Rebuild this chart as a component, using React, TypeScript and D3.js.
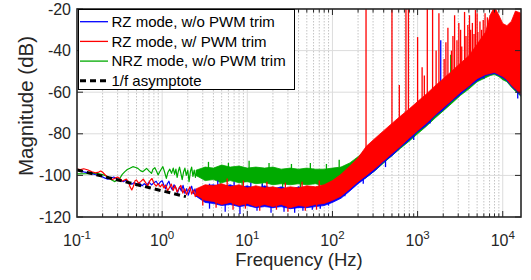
import { useEffect, useRef } from 'react';
import * as d3 from 'd3';

// axis ticks
const yTicks = [-120, -100, -80, -60, -40, -20];
const xDecades = [0.1, 1, 10, 100, 1000, 10000];
const xTickExp = ['-1', '0', '1', '2', '3', '4'];

const legendLabels = ['RZ mode, w/o PWM trim', 'RZ mode, w/ PWM trim', 'NRZ mode, w/o PWM trim', '1/f asymptote'];

// low-frequency traces [Hz, dB]
const blueTrace: [number, number][] = [
  [0.1, -97.3], [0.11, -97.8], [0.12, -98.3], [0.135, -98.8], [0.15, -99.2], [0.17, -99.8], [0.19, -100.3],
  [0.21, -101.2], [0.23, -101.8], [0.25, -101.4], [0.27, -100.8], [0.29, -101.5], [0.32, -102.4], [0.35, -103],
  [0.38, -102.2], [0.41, -103.5], [0.44, -104.2], [0.47, -103.4], [0.5, -104.5], [0.54, -103.6], [0.58, -105],
  [0.62, -104], [0.66, -104.8], [0.7, -103.2], [0.75, -104.6], [0.8, -103.5], [0.85, -102.8], [0.9, -104.5],
  [0.95, -103.2], [1.0, -102.6], [1.05, -104.8], [1.1, -106.5], [1.15, -104], [1.2, -102.8], [1.26, -105.5],
  [1.32, -107], [1.38, -104.5], [1.45, -106], [1.52, -108.2], [1.6, -105.5], [1.68, -107.5], [1.76, -104.8],
  [1.85, -108.6], [1.94, -106.4], [2.03, -109.5], [2.12, -107], [2.22, -105.2], [2.32, -108.8], [2.43, -106.5],
  [2.55, -110], [2.65, -107]
];
const redTrace: [number, number][] = [
  [0.1, -97], [0.11, -97.2], [0.12, -96.8], [0.135, -97.4], [0.15, -98.3], [0.165, -98.8], [0.18, -98.4],
  [0.19, -97.9], [0.2, -98.5], [0.22, -100.2], [0.24, -101.5], [0.26, -102], [0.28, -101.3], [0.3, -100.8],
  [0.32, -101.6], [0.34, -102.8], [0.36, -102.2], [0.38, -101.8], [0.4, -103], [0.42, -105.5], [0.44, -107],
  [0.46, -105.2], [0.48, -102.6], [0.5, -102.2], [0.53, -103.8], [0.56, -103], [0.6, -101.8], [0.64, -103.5],
  [0.68, -105], [0.72, -102.5], [0.76, -101.5], [0.8, -103.8], [0.85, -105.2], [0.9, -104], [0.95, -105.5],
  [1.0, -104.3], [1.05, -106], [1.1, -104.6], [1.16, -107.4], [1.22, -105.8], [1.28, -104.2], [1.35, -107.2],
  [1.42, -105], [1.5, -108], [1.58, -106.2], [1.66, -104.8], [1.75, -108.5], [1.84, -106.5], [1.93, -109.2],
  [2.02, -107.4], [2.12, -105.5], [2.22, -109], [2.33, -107], [2.45, -110.2], [2.57, -107.8], [2.68, -109.5]
];
const greenTrace: [number, number][] = [
  [0.1, -99.3], [0.13, -99.2], [0.17, -99.0], [0.2, -99.6], [0.23, -100.5], [0.256, -102.2], [0.279, -103],
  [0.3, -102], [0.319, -101.4], [0.34, -99.5], [0.365, -98.2], [0.39, -97.2], [0.418, -96.6], [0.453, -95.8],
  [0.49, -96.2], [0.519, -96.6], [0.56, -97.8], [0.594, -98.2], [0.62, -97.5], [0.656, -96.6], [0.7, -97.8],
  [0.751, -99], [0.78, -97], [0.821, -96.3], [0.86, -98], [0.898, -99.8], [0.93, -98.5], [0.963, -97.4],
  [1.02, -95.8], [1.07, -98.5], [1.12, -101.4], [1.17, -98.5], [1.23, -97.0], [1.29, -99], [1.35, -96.5],
  [1.4, -99.5], [1.45, -97], [1.5, -101], [1.55, -98], [1.6, -96], [1.66, -99], [1.72, -102], [1.78, -98.5],
  [1.85, -96.5], [1.92, -100], [2, -97.5], [2.07, -103], [2.15, -98], [2.22, -96], [2.3, -100.5], [2.38, -97.5],
  [2.46, -101], [2.55, -98], [2.65, -100.5]
];

// dense noise band envelopes above ~2.5 Hz
const bandF = [2.5, 3.2, 4, 5, 6.3, 8, 10, 12.6, 16, 20, 25, 32, 40, 50, 63, 80, 100, 126, 160, 200, 250, 320, 400,
  500, 630, 800, 1000, 1260, 1600, 2000, 2500, 3200, 4000, 5000, 6300, 7100, 8000, 9000, 10000, 11200, 12600, 14100, 16384];
const redHi = [-106.5, -104.5, -105, -104, -105.5, -104.5, -106, -105, -106, -105.5, -106.5, -105.5, -106, -105, -105.5,
  -104.5, -102.5, -99.5, -95.5, -91.5, -86, -82, -78.5, -75, -71.5, -68, -64.5, -61, -57, -53.5, -50, -46, -42.5, -37,
  -31, -23, -19, -23, -27, -28, -26, -21, -22];
const redLo = [-109.5, -112, -112.5, -114, -113, -114.5, -113.5, -115, -114, -115, -114, -115.5, -114.5, -115, -114,
  -113.5, -112, -110, -106.5, -103, -100, -96.5, -93, -89.5, -86, -82, -78.5, -75, -71, -67.5, -64, -60, -57, -53.5,
  -51.5, -51, -50.5, -51.5, -52.5, -54, -56.5, -58.5, -61];
const blueHi = [-107, -105, -104.5, -105.5, -104.5, -106, -105, -106.5, -105, -106.5, -105.5, -107, -105.5, -106.5, -106,
  -105.5, -104, -101, -97, -93, -88, -84, -80.5, -77, -73.5, -70, -66.5, -63, -59.5, -56, -52.5, -49, -45.5, -41, -35,
  -29, -25, -27, -30, -31, -29, -26, -27];
const blueLo = [-110, -113, -113.5, -114.5, -114, -115, -114.5, -115.5, -115, -115.5, -115, -116, -115.5, -115.5, -115,
  -114.5, -113, -111, -107.5, -104, -101, -97.5, -93.5, -90.5, -86.5, -83, -79, -76, -71.5, -68.5, -64.5, -61, -57.5,
  -54.5, -52, -51.5, -51, -52, -53, -54.5, -57, -59, -61.5];
const greenHi = [-97.5, -96, -96.5, -95, -96, -95.5, -96.5, -96, -96.5, -96, -97, -96.5, -97, -96.5, -97, -97, -96.5, -96,
  -94, -91, -87.5, -84, -80.5, -77, -73.5, -70, -66.5, -63.5, -60, -56.5, -53, -49.5, -46, -42, -37, -33, -30, -32, -34,
  -35, -33, -30, -31];
const greenLo = [-100, -102.5, -102, -103.5, -102.5, -103.5, -103, -104, -103.5, -104.5, -104, -104.5, -104, -104.5, -104,
  -105, -105, -105.5, -105, -103.5, -101, -97.5, -94, -90.5, -87, -83.5, -80, -76.5, -72.5, -69, -65.5, -61.5, -58.5, -55,
  -53, -52, -51.5, -52.5, -54, -55, -57.5, -59.5, -62];

// harmonic spurs and noise outliers [Hz, from dB, to dB]
const redSpikes: [number, number, number][] = [
  [248, -95, -20], [500, -82, -20], [610, -80, -56.5], [730, -75, -20], [780, -74, -20], [1000, -70, -33.5],
  [1130, -68, -48], [1200, -63, -52], [1300, -65, -20], [1500, -62, -20], [1650, -58, -40], [1780, -59, -22],
  [2050, -57, -44], [2150, -55, -36], [2270, -55, -29], [2500, -52, -40], [2600, -52, -33], [2720, -52, -23],
  [2900, -50, -35], [3050, -50, -26.7], [3200, -48, -30], [3300, -48, -38], [3560, -47, -21.4], [3700, -46, -33],
  [3890, -46, -27.7], [4070, -45, -23], [4200, -44, -30], [4400, -43, -26.7], [4600, -42, -32], [4780, -42, -20.5],
  [5000, -40, -22], [5100, -40, -31], [5400, -40, -26], [5650, -38, -30], [5900, -38, -25.3], [6200, -36, -22],
  [6600, -35, -24],
  [3, -108, -114.5], [4.3, -108, -115.5], [6.8, -110, -116.5], [9.5, -110, -116], [14, -110, -117], [22, -110, -116.5],
  [30, -110, -117.5], [48, -110, -117], [65, -110, -116.5], [5.8, -106, -101.5], [9, -106, -102.5], [17, -106, -103],
  [28, -106, -103.5], [44, -106, -103], [70, -106, -102.5]
];
const blueSpikes: [number, number, number][] = [
  [1870, -58, -35], [12000, -40, -29],
  [3.6, -104, -116], [5.5, -110, -117.5], [8.2, -110, -118.5], [13, -112, -117], [19, -112, -118], [27, -112, -117.5],
  [36, -112, -118], [45, -112, -117], [58, -112, -116.5], [72, -110, -116], [90, -109, -114.5], [140, -105, -110],
  [230, -98, -104], [420, -90, -96], [900, -78, -83], [1400, -70, -75], [2800, -60, -63], [6000, -50, -53.5],
  [15000, -55, -63], [4.5, -106, -102.5], [7, -106, -103], [11, -107, -103.5], [15, -107, -104]
];
const greenSpikes: [number, number, number][] = [
  [2450, -55, -42], [3900, -50, -44], [7600, -40, -25],
  [3.5, -97, -93.5], [6, -97, -94], [10.5, -97, -93], [18, -97, -94], [33, -97, -94.5], [55, -97, -94], [85, -97, -94.5],
  [120, -96, -92.5], [4.8, -102, -105.5], [8.7, -102, -106], [15, -103, -106.5], [26, -103, -107], [42, -103, -106.5],
  [70, -104, -107]
];

// 1/f asymptote end points
const asymF = [0.1, 1.9];
const asymDb = [-97.4, -110.2];

const FONT = 'Liberation Sans, Arial, Helvetica, sans-serif';

const App = () => {
  const svgRef = useRef<SVGSVGElement>(null);

  useEffect(() => {
    const width = 531;
    const height = 280;
    const margin = { top: 9, right: 10, bottom: 63, left: 77 };
    const svg = d3.select(svgRef.current);
    svg.selectAll('*').remove();
    svg.attr('width', width).attr('height', height);

    const x = d3.scaleLog().domain([0.1, 16384]).range([margin.left, width - margin.right]);
    const y = d3.scaleLinear().domain([-120, -20]).range([height - margin.bottom, margin.top]);
    const [x0, x1] = x.range();
    const [yb, yt] = y.range();

    svg.append('rect').attr('width', width).attr('height', height).attr('fill', '#fff');

    const minor: number[] = [];
    xDecades.forEach(d => {
      for (let k = 2; k <= 9; k++) if (d * k < 16384) minor.push(d * k);
    });

    // grid
    const grid = svg.append('g');
    grid.selectAll('.mg').data(minor).enter().append('line')
      .attr('x1', d => x(d)).attr('x2', d => x(d)).attr('y1', yt).attr('y2', yb)
      .attr('stroke', '#c4c4c4').attr('stroke-width', 1).attr('stroke-dasharray', '1.5,1.5');
    grid.selectAll('.Mg').data(xDecades.slice(1)).enter().append('line')
      .attr('x1', d => x(d)).attr('x2', d => x(d)).attr('y1', yt).attr('y2', yb)
      .attr('stroke', '#dcdcdc').attr('stroke-width', 1);
    grid.selectAll('.yg').data(yTicks.slice(1, -1)).enter().append('line')
      .attr('x1', x0).attr('x2', x1).attr('y1', d => y(d)).attr('y2', d => y(d))
      .attr('stroke', '#dcdcdc').attr('stroke-width', 1);

    svg.append('clipPath').attr('id', 'plotclip').append('rect')
      .attr('x', x0).attr('y', yt).attr('width', x1 - x0).attr('height', yb - yt);
    const plot = svg.append('g').attr('clip-path', 'url(#plotclip)');

    const line = d3.line<[number, number]>().x(d => x(d[0])).y(d => y(d[1]));

    const drawSeries = (color: string, trace: [number, number][], hi: number[], lo: number[], spikes: [number, number, number][]) => {
      plot.append('path').attr('d', line(trace)).attr('fill', 'none')
        .attr('stroke', color).attr('stroke-width', 1.2).attr('stroke-linejoin', 'round');
      const area = d3.area<number>()
        .x((_, i) => x(bandF[i]))
        .y0((_, i) => y(lo[i]))
        .y1((_, i) => y(hi[i]));
      plot.append('path').attr('d', area(bandF)).attr('fill', color)
        .attr('stroke', color).attr('stroke-width', 0.8).attr('stroke-linejoin', 'round');
      plot.selectAll(null).data(spikes).enter().append('line')
        .attr('x1', d => x(d[0])).attr('x2', d => x(d[0]))
        .attr('y1', d => y(d[1])).attr('y2', d => y(d[2]))
        .attr('stroke', color).attr('stroke-width', 1.3);
    };

    drawSeries('#00aa00', greenTrace, greenHi, greenLo, greenSpikes);
    drawSeries('#0000ff', blueTrace, blueHi, blueLo, blueSpikes);
    drawSeries('#ff0000', redTrace, redHi, redLo, redSpikes);

    plot.append('path')
      .attr('d', line(asymF.map((f, i) => [f, asymDb[i]] as [number, number])))
      .attr('stroke', '#000').attr('stroke-width', 3).attr('stroke-dasharray', '6,4').attr('fill', 'none');

    // axes box and ticks
    const axisColor = '#262626';
    const ax = svg.append('g').attr('stroke', axisColor);
    xDecades.slice(1).forEach(d => {
      ax.append('line').attr('x1', x(d)).attr('x2', x(d)).attr('y1', yb).attr('y2', yb - 6);
      ax.append('line').attr('x1', x(d)).attr('x2', x(d)).attr('y1', yt).attr('y2', yt + 6);
    });
    minor.forEach(d => {
      ax.append('line').attr('x1', x(d)).attr('x2', x(d)).attr('y1', yb).attr('y2', yb - 3.5);
      ax.append('line').attr('x1', x(d)).attr('x2', x(d)).attr('y1', yt).attr('y2', yt + 3.5);
    });
    yTicks.forEach(d => {
      ax.append('line').attr('x1', x0).attr('x2', x0 + 6).attr('y1', y(d)).attr('y2', y(d));
      ax.append('line').attr('x1', x1).attr('x2', x1 - 6).attr('y1', y(d)).attr('y2', y(d));
    });
    ax.append('rect').attr('x', x0).attr('y', yt).attr('width', x1 - x0).attr('height', yb - yt)
      .attr('fill', 'none').attr('stroke-width', 1.6);

    // tick labels
    svg.append('g').selectAll('text').data(yTicks).enter().append('text')
      .attr('x', x0 - 6).attr('y', d => y(d) + 5.5).attr('text-anchor', 'end')
      .attr('font-family', FONT).attr('font-size', 16).attr('fill', axisColor)
      .text(d => String(d));

    const xl = svg.append('g').selectAll('text').data(xDecades).enter().append('text')
      .attr('x', d => x(d)).attr('y', 246).attr('text-anchor', 'middle')
      .attr('font-family', FONT).attr('font-size', 16).attr('fill', axisColor);
    xl.append('tspan').text('10');
    xl.append('tspan').attr('dy', -7).attr('font-size', 11.5).text((_, i) => xTickExp[i]);

    svg.append('text').attr('x', (x0 + x1) / 2).attr('y', 266).attr('text-anchor', 'middle')
      .attr('font-family', FONT).attr('font-size', 18.5).attr('fill', axisColor)
      .text('Frequency (Hz)');
    svg.append('text').attr('transform', 'translate(33, 106) rotate(-90)')
      .attr('text-anchor', 'middle')
      .attr('font-family', FONT).attr('font-size', 20.5).attr('fill', axisColor)
      .text('Magnitude (dB)');

    // legend
    const lg = svg.append('g');
    lg.append('rect').attr('x', 78.5).attr('y', 9.5).attr('width', 216).attr('height', 80)
      .attr('fill', '#fff').attr('stroke', '#000').attr('stroke-width', 1);
    const legColors = ['#0000ff', '#ff0000', '#00aa00', '#000'];
    legendLabels.forEach((lab, i) => {
      const cy = 21.7 + i * 19.7;
      lg.append('line').attr('x1', 80).attr('x2', 108).attr('y1', cy).attr('y2', cy)
        .attr('stroke', legColors[i]).attr('stroke-width', i === 3 ? 3 : 1.3)
        .attr('stroke-dasharray', i === 3 ? '6,4' : null);
      lg.append('text').attr('x', 111.5).attr('y', cy + 5.3)
        .attr('font-family', FONT).attr('font-size', 15).attr('fill', '#000').text(lab);
    });
  }, []);

  return <svg ref={svgRef} style={{ position: 'absolute', left: 0, top: 0 }} />;
};

export default App;
